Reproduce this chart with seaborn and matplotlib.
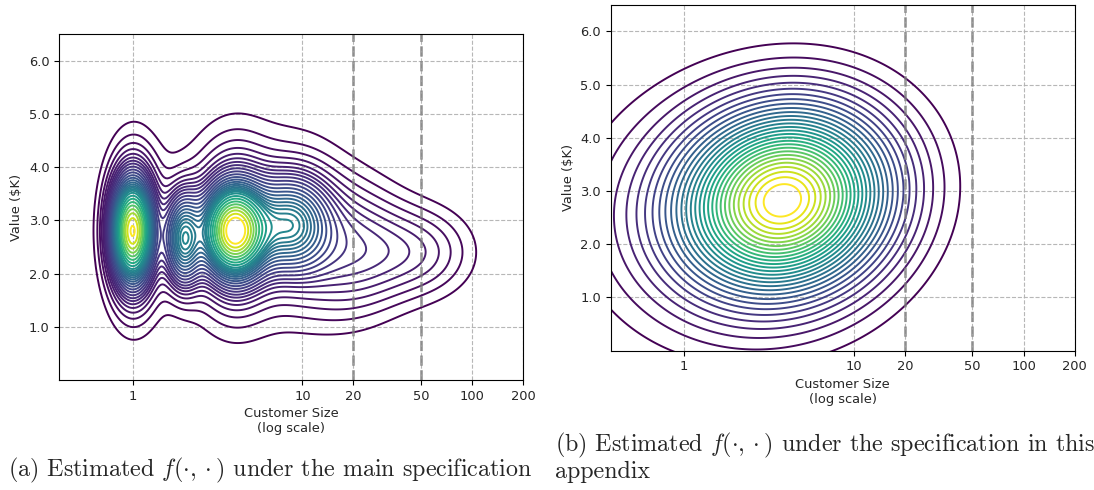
import numpy as np
import matplotlib
matplotlib.use("Agg")
import matplotlib.pyplot as plt
import seaborn as sns

# Mixture components, in (log10 size, value $K) space
left_u = [0.00, 0.00, 0.30, 0.60, 0.60, 0.93, 1.00, 1.30, 1.70, 0.60]
left_y = [2.80, 2.80, 2.65, 2.80, 2.85, 2.92, 2.90, 2.45, 2.40, 2.85]
left_su = [0.07, 0.11, 0.07, 0.11, 0.15, 0.14, 0.20, 0.22, 0.22, 0.35]
left_sy = [0.55, 1.00, 0.55, 0.50, 1.00, 0.55, 1.10, 0.85, 0.60, 1.35]
left_w = [0.14, 0.10, 0.07, 0.22, 0.10, 0.12, 0.06, 0.10, 0.05, 0.10]
left_rho = [0.0] * 10

right_u = [0.60, 0.25]
right_y = [2.85, 2.50]
right_su = [0.40, 0.55]
right_sy = [1.12, 1.50]
right_w = [0.80, 0.20]
right_rho = [0.10, 0.0]

x_ticks = [1, 10, 20, 50, 100, 200]
y_ticks = [1.0, 2.0, 3.0, 4.0, 5.0, 6.0]
cutoffs = [20, 50]

caption_a = r"(a) Estimated $f(\cdot,\cdot)$ under the main specification"
caption_b = [r"(b) Estimated $f(\cdot,\cdot)$ under the specification in this",
             "appendix"]

sns.set_style("white")
plt.rcParams["font.size"] = 9.4
plt.rcParams["mathtext.fontset"] = "cm"


def mixture_density(us, ys, sus, sys, ws, rhos, gu, gy):
    dens = np.zeros_like(gu)
    for u0, y0, su, sy, w, r in zip(us, ys, sus, sys, ws, rhos):
        a = (gu - u0) / su
        b = (gy - y0) / sy
        q = (a ** 2 - 2 * r * a * b + b ** 2) / (1 - r ** 2)
        dens += w / (2 * np.pi * su * sy * np.sqrt(1 - r ** 2)) * np.exp(-0.5 * q)
    return dens


def iso_levels(dens, n_levels=30, thresh=0.05):
    # same iso-proportion rule seaborn's kdeplot uses
    props = np.linspace(thresh, 1, n_levels)
    vals = np.sort(dens.ravel())[::-1]
    cum = np.cumsum(vals) / vals.sum()
    idx = np.searchsorted(cum, 1 - props)
    return np.unique(np.take(vals, idx, mode="clip"))


def draw_panel(ax, params):
    u = np.linspace(-1.5, 3.0, 500)
    y = np.linspace(-3.0, 9.0, 500)
    gu, gy = np.meshgrid(u, y)
    dens = mixture_density(*params, gu, gy)
    levels = iso_levels(dens)
    ax.contour(10 ** gu, gy, dens, levels=levels[:-1],
               cmap=sns.color_palette("viridis", as_cmap=True),
               linewidths=1.4)
    ax.set_xscale("log")
    ax.set_xlim(0.37, 200)
    ax.set_ylim(0, 6.5)
    ax.set_xticks(x_ticks)
    ax.set_xticklabels([str(t) for t in x_ticks])
    ax.xaxis.set_minor_locator(matplotlib.ticker.NullLocator())
    ax.set_yticks(y_ticks)
    ax.set_yticklabels([f"{t:.1f}" for t in y_ticks])
    ax.tick_params(axis="both", length=3.5, width=0.8, color="black",
                   left=True, bottom=True, labelsize=9.4)
    ax.grid(True, linestyle="--", color="#b0b0b0", linewidth=0.8, alpha=0.9)
    for c in cutoffs:
        ax.axvline(c, color="grey", linestyle="--", linewidth=2, alpha=0.75)
    for s in ax.spines.values():
        s.set_color("black")
        s.set_linewidth(0.8)
    ax.set_xlabel("Customer Size\n(log scale)", fontsize=9.4, labelpad=3)
    ax.set_ylabel("Value (\\$K)", fontsize=9.4)


fig = plt.figure(figsize=(10.94, 4.90), dpi=100)
ax_a = fig.add_axes([0.0542, 0.2245, 0.4241, 0.7061])
ax_b = fig.add_axes([0.5582, 0.2843, 0.4241, 0.7061])

draw_panel(ax_a, (left_u, left_y, left_su, left_sy, left_w, left_rho))
draw_panel(ax_b, (right_u, right_y, right_su, right_sy, right_w, right_rho))

cap_kw = dict(fontsize=17.3, family="cmr10", va="baseline", ha="left")
fig.text(0.007, 0.0286, caption_a, **cap_kw)
fig.text(0.507, 0.0796, caption_b[0], **cap_kw)
fig.text(0.507, 0.0245, caption_b[1], **cap_kw)

fig.savefig("out.png", dpi=100)
